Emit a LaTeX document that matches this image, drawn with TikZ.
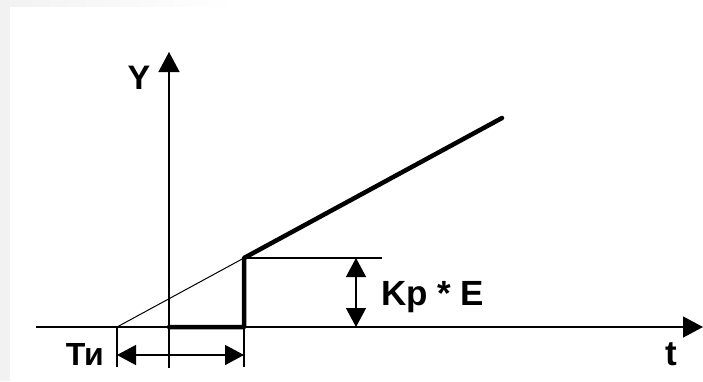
\documentclass[tikz,border=0pt]{standalone}
\usepackage{fontspec}
\setmainfont{Liberation Sans}
\usetikzlibrary{arrows.meta}
\tikzset{
  thinline/.style={line width=1.4pt, black},
  thickline/.style={line width=4.5pt, black, line cap=round, line join=round},
  tip/.style={-{Triangle[length=20pt,width=21pt]}},
  dimarrow/.style={thinline, {Triangle[length=19pt,width=20pt]}-{Triangle[length=19pt,width=20pt]}},
  lbl/.style={inner sep=0pt, font=\bfseries\fontsize{#1}{#1}\selectfont},
}
\begin{document}
\begin{tikzpicture}[x=1pt,y=-1pt]
\useasboundingbox (0,0) rectangle (703,381);
\fill[white] (0,0) rectangle (703,381);
\fill[black!5] (0,0) rectangle (10,381);
\shade[left color=black!5, right color=white] (10,0) rectangle (235,6);
% coordinates
\coordinate (xs) at (36,327);
\coordinate (xe) at (703,327);
\coordinate (yb) at (169,368);
\coordinate (ye) at (169,52);
\coordinate (A) at (117,327);
\coordinate (O) at (169,327);
\coordinate (S) at (244,327);
\coordinate (P) at (244,258);
\coordinate (Q) at (502,118);
\coordinate (H) at (382,258);
\coordinate (Ab) at (117,367);
\coordinate (Sb) at (244,367);
\coordinate (D1) at (117,355);
\coordinate (D2) at (244,355);
\coordinate (V1) at (356,258);
\coordinate (V2) at (356,327);
% axes
\draw[thinline, tip] (xs) -- (xe);
\draw[thinline, tip] (yb) -- (ye);
% slope and step
\draw[line width=1pt] (A) -- (P);
\draw[thickline] (O) -- (S) -- (P) -- (Q);
\draw[thinline] (P) -- (H);
\draw[thinline] (A) -- (Ab);
\draw[thinline] (S) -- (Sb);
% dimension arrows
\draw[dimarrow] (D1) -- (D2);
\draw[dimarrow] (V1) -- (V2);
% labels
\node[lbl=34, anchor=base] (ylab) at (139,89) {Y};
\node[lbl=35, anchor=base west] (kp) at (381,305) {Kp * E};
\node[lbl=32, anchor=base east] (ti) at (104,365) {Ти};
\node[lbl=35, anchor=base] (tlab) at (671,365) {t};
\end{tikzpicture}
\end{document}
